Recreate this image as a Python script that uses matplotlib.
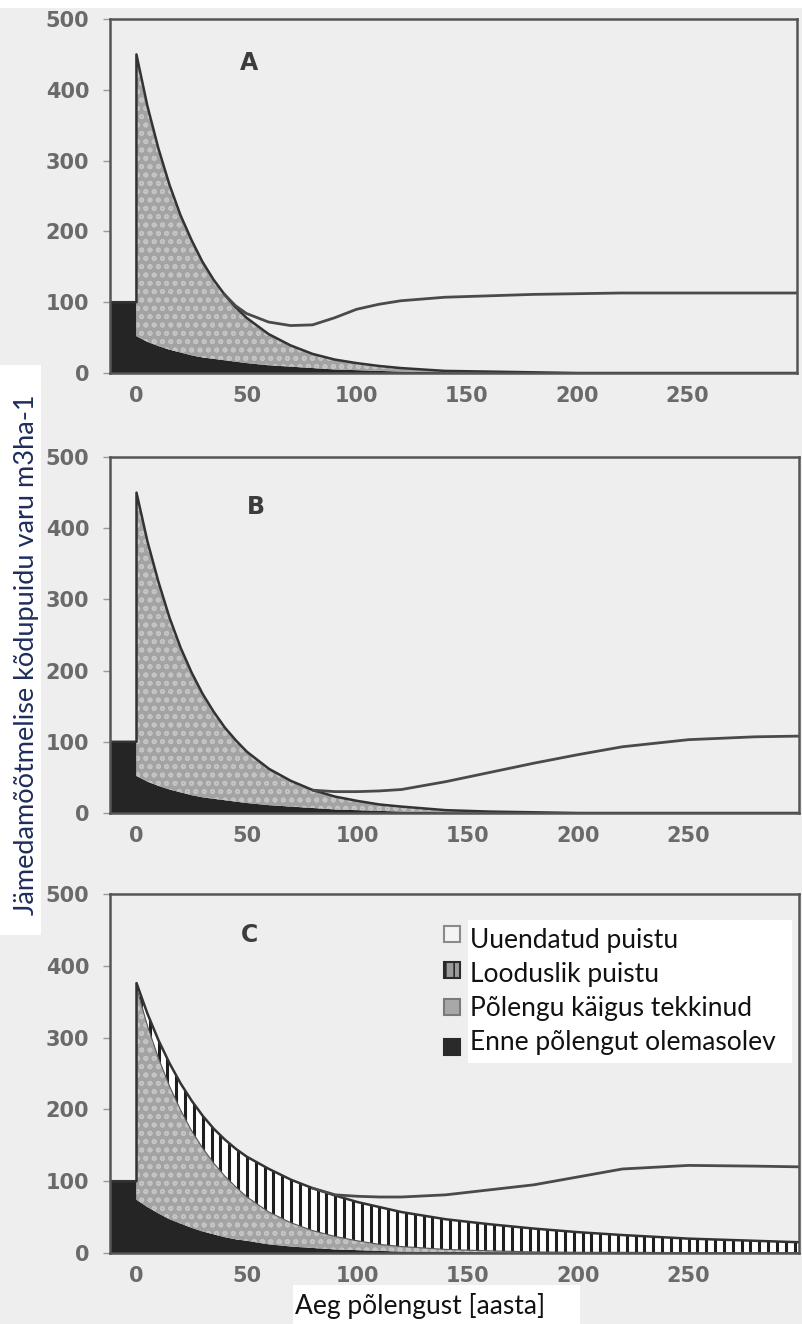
import numpy as np
import matplotlib.pyplot as plt
from matplotlib.patches import Rectangle

plt.rcParams["font.family"] = "DejaVu Sans"
plt.rcParams["hatch.linewidth"] = 1.2

W, H = 802, 1324

# years since fire (0 listed twice for the vertical step)
years = [-15, 0, 0, 5, 10, 15, 20, 25, 30, 35, 40, 45, 50, 60, 70, 80,
         90, 100, 110, 120, 140, 160, 180, 200, 220, 250, 280, 300]

# A
a_pre = [100, 100, 52, 44, 38, 33, 29, 25, 22, 20, 18, 16, 14, 11, 9, 7,
         5, 4, 3, 2, 1, 0.5, 0, 0, 0, 0, 0, 0]
a_fire = [0, 0, 398, 333, 279, 233, 194, 163, 135, 112, 93, 77, 64, 44, 30, 20,
          14, 10, 7, 5, 2, 1.5, 1, 0, 0, 0, 0, 0]
a_natural = [0] * 28
a_new = [0, 0, 0, 0, 0, 0, 0, 0, 0, 0, 0, 2, 6, 17, 28, 41,
         59, 76, 87, 95, 104, 107, 110, 112, 113, 113, 113, 113]

# B
b_pre = [100, 100, 52, 44, 38, 33, 29, 25, 22, 20, 18, 16, 14, 11, 9, 7,
         5, 4, 3, 2, 1, 0.5, 0, 0, 0, 0, 0, 0]
b_fire = [0, 0, 398, 337, 286, 241, 203, 172, 145, 122, 102, 86, 72, 51, 36, 25,
          18, 13, 9, 7, 3, 1.5, 1, 0, 0, 0, 0, 0]
b_natural = [0] * 28
b_new = [0, 0, 0, 0, 0, 0, 0, 0, 0, 0, 0, 0, 0, 0, 0, 0,
         7, 13, 19, 24, 40, 55, 69, 82, 93, 103, 107, 108]

# C
c_pre = [100, 100, 74, 64, 55, 47, 41, 35, 30, 26, 22, 19, 17, 12, 9, 7,
         5, 4, 3, 2, 1.5, 1, 0.5, 0.5, 0.5, 0.5, 0.5, 0.5]
c_fire = [0, 0, 296, 252, 216, 185, 158, 135, 116, 99, 85, 73, 61, 45, 33, 24,
          18, 13, 9, 7, 3.5, 2, 1, 0.5, 0.5, 0, 0, 0]
c_natural = [0, 0, 6, 17, 25, 32, 37, 42, 45, 48, 51, 53, 56, 60, 60, 59,
             57, 54, 52, 48, 42, 37, 32.5, 28, 24, 19.5, 16.5, 14.5]
c_new = [0, 0, 0, 0, 0, 0, 0, 0, 0, 0, 0, 0, 0, 0, 0, 0,
         1, 8, 14, 21, 34, 48, 61, 77, 92, 102, 104, 105]

panels = [
    ("A", a_pre, a_fire, a_natural, a_new, (51, 438)),
    ("B", b_pre, b_fire, b_natural, b_new, (54, 430)),
    ("C", c_pre, c_fire, c_natural, c_new, (51, 443)),
]

legend_labels = ["Uuendatud puistu", "Looduslik puistu",
                 "Põlengu käigus tekkinud", "Enne põlengut olemasolev"]

bg = "#eeeeee"
dark = "#252525"
gray_fill = "#a3a3a3"
frame = "#555555"
tick_col = "#6a6a6a"

fig = plt.figure(figsize=(W / 100, H / 100), dpi=100, facecolor=bg)


def fx(px):
    return px / W


def fy(py):
    return 1 - py / H


# axes boxes in pixels: left, top, right, bottom
boxes = [(110, 19, 797, 373), (110, 457, 799, 813), (110, 894, 799, 1253)]

x = np.array(years, dtype=float)
for (name, pre, fire, natural, new, lab), (l, t, r, b) in zip(panels, boxes):
    ax = fig.add_axes([fx(l), fy(b), fx(r) - fx(l), (b - t) / H])
    ax.set_facecolor(bg)
    pre = np.array(pre, float)
    s2 = pre + np.array(fire, float)
    s3 = s2 + np.array(natural, float)
    new = np.array(new, float)
    s4 = s3 + new

    ax.fill_between(x, 0, pre, facecolor=dark, lw=0, zorder=2)
    ax.fill_between(x, pre, s2, facecolor=gray_fill, edgecolor="#c4c4c4",
                    hatch="oo", lw=0, zorder=2)
    if np.any(np.array(natural) > 0):
        poly = ax.fill_between(x, s2, s3, facecolor="white", lw=0, zorder=2)
        stripes = ax.vlines(np.arange(2, 305, 4.0), 0, 500, color="#1e1e1e",
                            lw=2.2, zorder=3)
        stripes.set_clip_path(poly.get_paths()[0], ax.transData)
        ax.plot(x, s2, color="#555555", lw=0.8, zorder=3)

    ax.plot(x, s3, color="#333333", lw=1.8, zorder=4)
    start = max(int(np.argmax(new > 0)) - 1, 0)
    ax.plot(x[start:], s4[start:], color="#4a4a4a", lw=2.0, zorder=4)

    ax.set_xlim(-12, 300)
    ax.set_ylim(0, 500)
    ax.set_xticks([0, 50, 100, 150, 200, 250])
    ax.set_yticks([0, 100, 200, 300, 400, 500])
    ax.tick_params(axis="x", length=0, pad=9, labelsize=15, labelcolor=tick_col)
    ax.tick_params(axis="y", length=5, width=1, color="#9a9a9a", pad=10,
                   labelsize=15, labelcolor=tick_col)
    for lb in ax.get_xticklabels() + ax.get_yticklabels():
        lb.set_fontweight("bold")
    for sp in ax.spines.values():
        sp.set_color(frame)
        sp.set_linewidth(1.8)
        sp.set_zorder(5)

    ax.text(lab[0], lab[1], name, fontsize=17, fontweight="bold",
            color="#3c3c3c", ha="center", va="center", zorder=6)

# white strips from the pasted image
fig.add_artist(Rectangle((0, fy(8)), 1, 8 / H, transform=fig.transFigure,
                         facecolor="white", lw=0, zorder=0))
fig.add_artist(Rectangle((0, fy(935)), fx(41), (935 - 365) / H,
                         transform=fig.transFigure, facecolor="white", lw=0, zorder=10))
fig.text(fx(27), fy(655), "Jämedamõõtmelise kõdupuidu varu m3ha-1",
         rotation=90, ha="center", va="center", fontsize=19.5,
         family="Lato", color="#1e2d5c", zorder=11)

fig.add_artist(Rectangle((fx(293), 0), fx(580) - fx(293), (H - 1285) / H,
                         transform=fig.transFigure, facecolor="white", lw=0, zorder=10))
fig.text(fx(295), fy(1314), "Aeg põlengust [aasta]", ha="left", va="baseline",
         fontsize=19, family="Lato", color="#111111", zorder=11)

# legend
fig.add_artist(Rectangle((fx(468), fy(1063)), fx(792) - fx(468), (1063 - 920) / H,
                         transform=fig.transFigure, facecolor="white", lw=0, zorder=10))
sq_styles = [
    dict(facecolor="#f4f4f4", edgecolor="#8a8a8a", hatch=None),
    dict(facecolor="#9a9a9a", edgecolor="#2a2a2a", hatch="||"),
    dict(facecolor="#a8a8a8", edgecolor="#7a7a7a", hatch=None),
    dict(facecolor="#2a2a2a", edgecolor="#2a2a2a", hatch=None),
]
base = [948, 982, 1016, 1050]
sq_y = [934, 970, 1007, 1047]
for lbl, st, yb, ys in zip(legend_labels, sq_styles, base, sq_y):
    fig.add_artist(Rectangle((fx(444), fy(ys + 8)), 16 / W, 16 / H,
                             transform=fig.transFigure, lw=1.5, zorder=11, **st))
    fig.text(fx(470), fy(yb), lbl, ha="left", va="baseline", fontsize=19,
             family="Lato", color="#111111", zorder=12)

fig.savefig("out.png", dpi=100, facecolor=bg)
